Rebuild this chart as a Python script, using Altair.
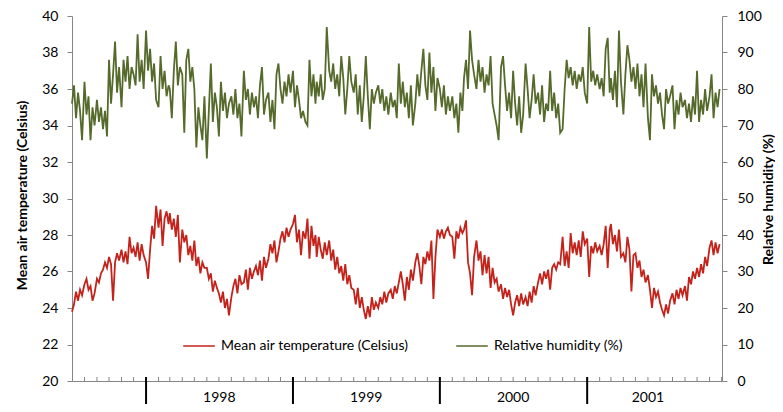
import altair as alt
import pandas as pd

# Six readings per month (days 1, 6, 11, 16, 21, 26), July 1997 - November 2001
temp = [
    23.8, 24.2, 24.9, 24.4, 25.0, 24.7,   # Jul 97
    25.3, 25.6, 25.0, 25.2, 24.4, 24.8,
    25.6, 25.4, 25.9, 26.1, 26.5, 26.2,
    26.8, 26.4, 24.4, 26.5, 27.0, 26.6,
    27.2, 26.5, 27.1, 26.4, 27.9, 27.0,
    27.3, 26.8, 27.6, 26.6, 27.5, 26.9,
    26.5, 25.6, 27.2, 28.5, 27.8, 29.6,   # Jan 98
    28.4, 29.4, 27.4, 28.9, 29.3, 28.6,
    29.2, 28.3, 28.9, 27.9, 29.1, 26.5,
    28.3, 27.6, 28.0, 26.9, 27.4, 26.6,
    27.7, 26.3, 26.8, 25.9, 26.5, 26.2,
    26.2, 25.6, 25.9, 24.9, 25.5, 25.1,
    24.8, 24.3, 24.9, 24.0, 24.5, 23.6,   # Jul 98
    24.6, 25.2, 25.6, 24.8, 25.8, 25.3,
    25.4, 26.1, 25.0, 26.2, 25.6, 26.0,
    26.3, 25.8, 26.6, 25.5, 26.8, 26.2,
    26.7, 27.5, 27.0, 27.7, 26.5, 27.1,
    27.8, 28.2, 27.6, 28.4, 27.9, 28.3,
    28.6, 29.1, 27.6, 28.3, 26.9, 28.2,   # Jan 99
    27.8, 28.9, 26.7, 28.5, 27.4, 28.0,
    26.8, 27.9, 27.2, 26.7, 27.6, 26.9,
    27.7, 26.6, 27.2, 26.1, 26.8, 25.9,
    26.3, 25.5, 26.4, 25.3, 25.8, 25.1,
    25.0, 24.2, 25.1, 24.0, 24.6, 23.9,
    23.4, 24.1, 23.5, 24.6, 23.9, 24.3,   # Jul 99
    24.0, 24.6, 24.2, 24.9, 24.3, 24.8,
    25.0, 24.5, 25.2, 24.8, 25.4, 26.0,
    25.3, 24.4, 25.7, 25.0, 26.1, 25.5,
    26.5, 27.0, 26.3, 25.3, 26.8, 26.4,
    27.1, 26.6, 27.7, 24.5, 26.8, 28.3,
    27.9, 28.3, 27.8, 28.2, 28.4, 28.0,   # Jan 00
    27.9, 26.7, 28.2, 27.8, 28.4, 28.1,
    28.3, 28.8, 26.5, 25.9, 24.7, 26.8,
    27.7, 26.6, 27.1, 25.8, 26.9, 25.9,
    26.8, 25.1, 26.2, 25.4, 25.6, 24.9,
    25.3, 24.5, 25.1, 24.6, 25.0, 24.2,
    23.6, 24.3, 24.7, 24.1, 24.8, 24.2,   # Jul 00
    24.6, 24.1, 24.9, 24.3, 25.2, 24.7,
    25.4, 25.9, 25.3, 26.0, 25.6, 26.1,
    25.0, 26.2, 26.4, 26.1, 26.5, 26.4,
    27.9, 26.3, 27.1, 26.2, 28.1, 27.0,
    27.6, 26.9, 27.7, 26.8, 28.2, 27.5,
    27.8, 25.7, 27.4, 27.0, 27.6, 27.1,   # Jan 01
    27.4, 26.9, 27.5, 28.5, 26.2, 28.3,
    28.6, 27.5, 28.0, 27.1, 28.3, 26.8,
    27.0, 26.5, 27.9, 27.2, 24.9, 26.9,
    27.0, 26.2, 26.6, 25.7, 26.1, 25.4,
    25.8, 25.0, 24.0, 25.1, 24.6, 24.9,
    24.3, 23.9, 23.6, 24.2, 23.7, 24.4,   # Jul 01
    24.8, 24.2, 25.0, 24.5, 25.1, 24.7,
    25.2, 24.4, 25.7, 25.3, 26.0, 25.6,
    26.2, 25.7, 26.4, 25.9, 26.8, 26.3,
    27.3, 27.7, 26.9, 27.6, 27.0, 27.5,
]

rh = [
    76, 81, 72, 79, 74, 66,   # Jul 97
    82, 73, 78, 66, 75, 70,
    77, 71, 75, 69, 74, 67,
    88, 76, 84, 93, 79, 86,
    75, 88, 82, 89, 80, 86,
    84, 81, 95, 82, 88, 80,
    96, 85, 91, 82, 87, 77,   # Jan 98
    75, 89, 80, 85, 78, 81,
    80, 72, 85, 93, 81, 86,
    84, 68, 88, 91, 82, 86,
    80, 64, 75, 70, 66, 78,
    61, 74, 87, 71, 79, 75,
    67, 82, 74, 79, 72, 76,   # Jul 98
    78, 73, 80, 72, 76, 67,
    85, 77, 80, 73, 79, 75,
    78, 72, 81, 86, 73, 77,
    79, 71, 77, 69, 84, 87,
    80, 76, 82, 78, 84, 79,
    85, 75, 81, 77, 72, 74,   # Jan 99
    71, 70, 88, 78, 84, 76,
    82, 78, 84, 77, 80, 97,
    85, 82, 87, 80, 84, 78,
    89, 83, 73, 80, 89, 82,
    79, 84, 73, 81, 71, 78,
    89, 78, 69, 80, 76, 79,   # Jul 99
    81, 76, 80, 74, 78, 73,
    79, 75, 77, 72, 87, 76,
    82, 75, 79, 72, 81, 70,
    76, 84, 78, 85, 91, 81,
    77, 90, 79, 86, 74, 83,
    80, 75, 81, 73, 78, 74,   # Jan 00
    78, 72, 76, 68, 79, 74,
    83, 88, 80, 96, 88, 84,
    80, 88, 82, 86, 79, 84,
    81, 89, 76, 73, 70, 66,
    86, 89, 81, 74, 79, 72,
    85, 76, 70, 78, 68, 73,   # Jul 00
    87, 80, 72, 77, 84, 76,
    79, 73, 81, 71, 76, 74,
    85, 74, 79, 72, 76, 68,
    69, 80, 88, 83, 86, 81,
    85, 80, 84, 82, 86, 79,
    76, 97, 82, 85, 81, 84,   # Jan 01
    80, 83, 78, 91, 94, 79,
    83, 77, 85, 75, 96, 82,
    73, 84, 92, 88, 82, 86,
    80, 87, 78, 84, 75, 87,
    72, 66, 84, 78, 81, 76,
    79, 73, 69, 80, 76, 78,   # Jul 01
    81, 69, 77, 73, 79, 75,
    77, 72, 76, 71, 78, 73,
    85, 71, 77, 73, 80, 74,
    78, 84, 72, 79, 75, 80,
]

year_labels = ["1998", "1999", "2000", "2001"]
year_starts = ["1998-01-01T00:00:00", "1999-01-01T00:00:00", "2000-01-01T00:00:00", "2001-01-01T00:00:00"]
year_label_dates = ["1998-07-02T00:00:00", "1999-07-02T00:00:00", "2000-07-01T00:00:00", "2001-06-01T00:00:00"]

T_NAME = "Mean air temperature (Celsius)"
H_NAME = "Relative humidity (%)"
RED = "#C3231B"
GREEN = "#556A2B"
FONT = "Lato"

months = pd.date_range("1997-07-01", "2001-11-01", freq="MS")
sample_days = [0, 5, 10, 15, 20, 25]
dates = [(m + pd.Timedelta(days=d)).strftime("%Y-%m-%dT00:00:00") for m in months for d in sample_days]

df_t = pd.DataFrame({"date": dates, "value": temp, "series": T_NAME})
df_h = pd.DataFrame({"date": dates, "value": rh, "series": H_NAME})
month_ticks = pd.date_range("1997-08-01", "2001-12-01", freq="MS").strftime("%Y-%m-%dT00:00:00")
df_ticks = pd.DataFrame({"date": list(month_ticks)})
df_years = pd.DataFrame({"date": year_starts})
df_ylab = pd.DataFrame({"date": year_label_dates, "label": year_labels})

W, H = 650, 365

x_scale = alt.Scale(domain=[alt.DateTime(year=1997, month=7, date=1),
                            alt.DateTime(year=2001, month=12, date=2)])
x_axis = alt.Axis(labels=False, ticks=False, title=None, grid=False,
                  domainColor="#868686", domainWidth=1)
X = alt.X("date:T", scale=x_scale, axis=x_axis)

color_scale = alt.Scale(domain=[T_NAME, H_NAME], range=[RED, GREEN])
legend = alt.Legend(title=None, orient="none", legendX=110, legendY=313,
                    direction="horizontal", symbolType="stroke", symbolSize=1000,
                    symbolStrokeWidth=1.5, labelFontSize=14, labelFont=FONT,
                    labelColor="#000000", labelLimit=400, columnPadding=44,
                    labelOffset=5, padding=0)

t_line = alt.Chart(df_t).mark_line(strokeWidth=1.8).encode(
    x=X,
    y=alt.Y("value:Q", scale=alt.Scale(domain=[20, 40], nice=False, zero=False),
            axis=alt.Axis(values=list(range(20, 41, 2)), title=T_NAME, orient="left",
                          grid=False, domainColor="#868686", tickColor="#868686",
                          tickSize=5, labelPadding=9, labelFontSize=14,
                          labelColor="#000000", titleFontSize=14, titleFontWeight="bold",
                          titleColor="#000000", titlePadding=12, titleY=179)),
    color=alt.Color("series:N", scale=color_scale, legend=legend),
)

h_line = alt.Chart(df_h).mark_line(strokeWidth=1.8).encode(
    x=X,
    y=alt.Y("value:Q", scale=alt.Scale(domain=[0, 100], nice=False),
            axis=alt.Axis(values=list(range(0, 101, 10)), title=H_NAME, orient="right",
                          grid=False, domainColor="#868686", tickColor="#868686",
                          tickSize=5, labelPadding=10, labelFontSize=14,
                          labelColor="#000000", titleFontSize=14, titleFontWeight="bold",
                          titleColor="#000000", titlePadding=14, titleAngle=270,
                          titleAlign="center", titleY=183)),
    color=alt.Color("series:N", scale=color_scale, legend=legend),
)

minor = alt.Chart(df_ticks).mark_rule(color="#868686", strokeWidth=1).encode(
    x=X, y=alt.value(H - 4), y2=alt.value(H)
)

major = alt.Chart(df_years).mark_rule(color="#000000", strokeWidth=2).encode(
    x=X, y=alt.value(H - 4), y2=alt.value(H + 30)
)

ylab = alt.Chart(df_ylab).mark_text(fontSize=14, font=FONT, color="#000000",
                                    baseline="middle", align="center").encode(
    x=X, y=alt.value(H + 17), text="label:N"
)

chart = alt.layer(h_line, t_line, minor, major, ylab).resolve_scale(
    y="independent"
).properties(
    width=W, height=H,
    padding={"left": 64, "top": 8, "right": 53, "bottom": 23},
    autosize=alt.AutoSizeParams(type="none"),
).configure_view(stroke=None).configure_axis(
    labelFont=FONT, titleFont=FONT
)

chart.save("out.html", embed_options={"renderer": "svg", "actions": False})
